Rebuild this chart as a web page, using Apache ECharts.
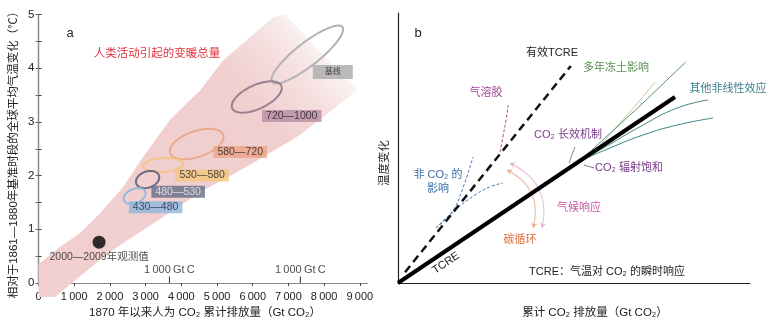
<!DOCTYPE html>
<html><head><meta charset="utf-8">
<script src="https://cdn.jsdelivr.net/npm/echarts@6/dist/echarts.min.js"></script>
<style>html,body{margin:0;padding:0;background:#fff}#c{width:773px;height:322px}</style>
</head><body><div id="c"></div>
<script>
// ---------------- Panel a data ----------------
const xTickLabelsA = [0,1000,2000,3000,4000,5000,6000,7000,8000,9000];
const yTickLabelsA = [0,1,2,3,4,5];
// shaded band "人类活动引起的变暖总量" (outline, GtCO2 / °C)
const bandX = [0, 603, 1163, 1724, 2369, 2930, 3686, 4527, 5172, 5929, 6574, 6900, 8929, 7331, 5929, 4527, 3490, 2004, 967, 462, 0];
const bandY = [0.35, 0.67, 0.93, 1.30, 1.79, 2.35, 3.04, 3.59, 4.15, 4.58, 4.95, 5.0, 3.59, 2.76, 2.20, 1.69, 1.23, 0.58, 0.02, -0.26, -0.26];
// scenario ellipses: centre, major semi-axis offset, minor/major ratio
const scenarioNames = ['基线', '720—1000', '580—720', '530—580', '480—530', '430—480'];
const ellCX = [7527, 6112, 4430, 3490, 3056, 2691];
const ellCY = [4.255, 3.464, 2.588, 2.197, 1.927, 1.620];
const ellDX = [984, 686, 742, 561, 317, 300];
const ellDY = [0.512, 0.212, 0.170, 0.019, 0.077, 0.080];
const ellRatio = [0.26, 0.44, 0.46, 0.35, 0.67, 0.61];
// label box anchor positions
const boxX = [8242, 7093, 5649, 4584, 3911, 3280];
const boxY = [3.93, 3.11, 2.44, 2.00, 1.70, 1.41];
// observed 2000-2009
const obsX = [1696];
const obsY = [0.76];
// 1000 GtC markers (GtCO2)
const gtcMarks = [3667, 7334];

// ---------------- Panel b data (conceptual units 0-100) ----------------
const tcreLine = [[0, 0], [78.7, 68.9]];
const effTcreLine = [[2, 4], [49.1, 80.4]];
const aerosolLine = [[29.0, 48.5], [29.8, 54.1], [30.7, 60.4], [31.3, 65.9]];
const nonCo2A = [[10.8, 20.4], [15.3, 26.3], [18.2, 34.4], [21.3, 46.7]];
const nonCo2B = [[10.8, 20.4], [16.2, 27.0], [21.9, 32.6], [26.1, 35.6], [29.8, 37.0]];
const permafrostLine = [[51.7, 45.2], [56.0, 49.3], [63.1, 59.3], [68.8, 67.8], [73.0, 74.4]];
const otherUpper = [[51.7, 45.2], [58.2, 53.0], [69.6, 66.7], [77.3, 76.3], [81.8, 81.9]];
const otherLower1 = [[51.7, 45.2], [57.4, 49.3], [69.6, 58.5], [79.3, 64.8], [88.1, 67.8]];
const otherLower2 = [[51.7, 45.2], [60.2, 50.0], [69.6, 54.8], [79.3, 58.5], [89.5, 61.1]];
const longTermConnector = [[50.3, 50.4], [49.4, 47.4], [48.6, 44.4]];
const saturationConnector = [[52.8, 43.7], [55.7, 42.6]];
const carbonCycleArrow = [[31.0, 41.9], [38.4, 20.4]];
const climateRespArrow = [[31.8, 44.4], [40.9, 20.4]];

// ---------------- styles ----------------
const ellColors = ['#b2b2b4', '#9d7f93', '#eaa98a', '#f4c585', '#6b6b82', '#94b8de'];
const boxColors = ['#a9aaad', '#b68ca3', '#eda385', '#f5c47e', '#666c86', '#90b6de'];
const boxText = ['#222', '#222', '#222', '#222', '#eef0f6', '#1d2a44'];
const NARROW = "'Liberation Sans Narrow','Liberation Sans','Noto Sans CJK SC',sans-serif";
const MIXED = "'Liberation Sans','Noto Sans CJK SC',sans-serif";

function fmt(v) {
  if (v >= 1000) return Math.floor(v / 1000) + '\u2009' + String(v % 1000).padStart(3, '0');
  return String(v);
}

function ellipseRender(params, api) {
  const c = api.coord([api.value(0), api.value(1)]);
  const e = api.coord([api.value(0) + api.value(2), api.value(1) + api.value(3)]);
  const a = Math.hypot(e[0] - c[0], e[1] - c[1]);
  const ang = Math.atan2(e[1] - c[1], e[0] - c[0]);
  const b = a * api.value(4);
  const pts = [];
  for (let k = 0; k <= 90; k++) {
    const t = k / 90 * 2 * Math.PI;
    const x = a * Math.cos(t), y = b * Math.sin(t);
    pts.push([c[0] + x * Math.cos(ang) - y * Math.sin(ang), c[1] + x * Math.sin(ang) + y * Math.cos(ang)]);
  }
  return { type: 'polyline', shape: { points: pts }, style: { fill: null, stroke: ellColors[params.dataIndex], lineWidth: 2 } };
}

function bandRender(params, api) {
  const pts = bandX.map((x, i) => api.coord([x, bandY[i]]));
  return {
    type: 'polygon', shape: { points: pts },
    style: {
      fill: new echarts.graphic.LinearGradient(0, 1, 1, 0, [
        { offset: 0, color: 'rgba(241,207,207,1)' },
        { offset: 0.68, color: 'rgba(241,207,207,1)' },
        { offset: 0.8, color: 'rgba(241,207,207,0.65)' },
        { offset: 0.93, color: 'rgba(241,207,207,0.05)' }
      ])
    }
  };
}

const series = [];
series.push({ type: 'custom', xAxisIndex: 0, yAxisIndex: 0, renderItem: bandRender, data: [[0, 0]], z: 1, silent: true, clip: false });
series.push({
  type: 'custom', xAxisIndex: 0, yAxisIndex: 0, renderItem: ellipseRender, z: 3, silent: true,
  data: ellCX.map((x, i) => [x, ellCY[i], ellDX[i], ellDY[i], ellRatio[i]])
});
series.push({
  type: 'scatter', xAxisIndex: 0, yAxisIndex: 0, z: 4, symbolSize: 1, itemStyle: { color: 'rgba(0,0,0,0)' },
  data: boxX.map((x, i) => ({
    value: [x, boxY[i]],
    label: {
      show: true, position: 'inside', formatter: scenarioNames[i],
      backgroundColor: boxColors[i], color: boxText[i],
      fontFamily: NARROW, fontSize: i === 0 ? 8 : 10.5, lineHeight: i === 0 ? 10 : 11,
      padding: i === 0 ? [2, 12, 2, 12] : [1, 4, 0, 4]
    }
  }))
});
series.push({
  type: 'scatter', xAxisIndex: 0, yAxisIndex: 0, z: 5, symbolSize: 13, itemStyle: { color: '#000' },
  data: obsX.map((x, i) => [x, obsY[i]]),
  label: { show: true, position: 'bottom', distance: 3, formatter: '2000—2009年观测值', color: '#222', fontSize: 10.5, fontFamily: NARROW }
});
gtcMarks.forEach(g => {
  series.push({
    type: 'line', xAxisIndex: 0, yAxisIndex: 0, z: 5, symbol: 'none', lineStyle: { color: '#333', width: 1 },
    data: [[g, 0], [g, 0.12]]
  });
  series.push({
    type: 'scatter', xAxisIndex: 0, yAxisIndex: 0, z: 5, symbolSize: 1, itemStyle: { color: 'rgba(0,0,0,0)' },
    data: [[g, 0.12]],
    label: { show: true, position: 'top', distance: 1, formatter: '1\u2009000\u2009Gt\u2009C', color: '#222', fontSize: 11, fontFamily: NARROW }
  });
});

// panel b lines
function bLine(data, color, width, type, smooth, z) {
  series.push({ type: 'line', xAxisIndex: 2, yAxisIndex: 2, symbol: 'none', smooth: smooth, z: z || 3, silent: true,
    lineStyle: { color: color, width: width, type: type || 'solid', cap: 'butt' }, data: data });
}
bLine(nonCo2A, '#4a78b5', 1, [3, 2], true);
bLine(nonCo2B, '#4a78b5', 1, [3, 2], true);
bLine(aerosolLine, '#a8487a', 1, [3, 2], true);
bLine(effTcreLine, '#111', 2.5, [8, 5], false, 4);
bLine(permafrostLine, '#cbc38f', 1, 'solid', true);
bLine(otherUpper, '#4f937b', 1, 'solid', true);
bLine(otherLower1, '#3e8584', 1, 'solid', true);
bLine(otherLower2, '#3e8584', 1, 'solid', true);
bLine(longTermConnector, '#6b4a7c', 0.8, 'solid', true);
bLine(saturationConnector, '#6b4a7c', 0.8, 'solid', false);
bLine(tcreLine, '#000', 4, 'solid', false, 5);
series.push({
  type: 'lines', coordinateSystem: 'cartesian2d', xAxisIndex: 2, yAxisIndex: 2, z: 4, silent: true,
  symbol: ['arrow', 'arrow'], symbolSize: 5,
  data: [
    { coords: carbonCycleArrow, lineStyle: { color: '#e2804f', width: 1.2, curveness: 0.4 } },
    { coords: climateRespArrow, lineStyle: { color: '#d98cb8', width: 1.2, curveness: 0.4 } }
  ]
});

function txt(text, x, y, color, size, opts) {
  return Object.assign({
    type: 'text', x: x, y: y, z: 10,
    style: { text: text, fill: color, font: size + "px 'Liberation Sans','Noto Sans CJK SC',sans-serif", align: 'center', verticalAlign: 'middle' }
  }, opts || {});
}

const option = {
  animation: false,
  backgroundColor: '#fff',
  grid: [
    { left: 38.5, right: 406, top: 14.5, bottom: 39 },
    { left: 398, right: 23, top: 13, bottom: 39 }
  ],
  xAxis: [
    { type: 'value', gridIndex: 0, min: 0, max: 9200, interval: 1000, splitLine: { show: false },
      axisLine: { lineStyle: { color: '#444', width: 1.2 } },
      axisTick: { show: true, inside: false, length: 3, lineStyle: { color: '#444' } },
      axisLabel: { margin: 8, fontSize: 11, color: '#222', fontFamily: NARROW, showMaxLabel: false,
        formatter: v => xTickLabelsA.indexOf(v) >= 0 ? fmt(v) : '' } },
    { type: 'value', gridIndex: 0, position: 'top', min: 0, max: 9200, splitLine: { show: false },
      axisLine: { show: true, lineStyle: { color: '#8a8a8a', width: 1.2 } }, axisTick: { show: false }, axisLabel: { show: false } },
    { type: 'value', gridIndex: 1, min: 0, max: 100, splitLine: { show: false },
      axisLine: { lineStyle: { color: '#222', width: 1.2 } }, axisTick: { show: false }, axisLabel: { show: false } }
  ],
  yAxis: [
    { type: 'value', gridIndex: 0, min: 0, max: 5, interval: 0.5, splitLine: { show: false },
      axisLine: { show: true, lineStyle: { color: '#444', width: 1.2 } },
      axisTick: { show: true, inside: true, length: 3, lineStyle: { color: '#444' } },
      axisLabel: { margin: 4, fontSize: 11.5, color: '#222', fontFamily: MIXED,
        formatter: v => yTickLabelsA.indexOf(v) >= 0 ? String(v) : '' } },
    { type: 'value', gridIndex: 0, position: 'right', min: 0, max: 5, interval: 0.5, splitLine: { show: false },
      axisLine: { show: true, lineStyle: { color: '#8a8a8a', width: 1.2 } },
      axisTick: { show: true, inside: true, length: 3, lineStyle: { color: '#666' } }, axisLabel: { show: false } },
    { type: 'value', gridIndex: 1, min: 0, max: 100, splitLine: { show: false },
      axisLine: { show: true, lineStyle: { color: '#222', width: 1.2 } }, axisTick: { show: false }, axisLabel: { show: false } }
  ],
  graphic: [
    txt('a', 70, 33, '#222', 13),
    txt('b', 418, 33, '#222', 13),
    txt('人类活动引起的变暖总量', 157, 54, '#e0323f', 11.5),
    txt('相对于1861—1880年基准时段的全球平均气温变化（℃）', 14, 152, '#222', 11.5, { rotation: Math.PI / 2 }),
    txt('1870 年以来人为 CO₂ 累计排放量（Gt CO₂）', 205, 313, '#222', 11.5),
    txt('温度变化', 385, 163, '#222', 11.5, { rotation: Math.PI / 2 }),
    txt('累计 CO₂ 排放量（Gt CO₂）', 595, 313, '#222', 11.5),
    txt('有效TCRE', 552, 53, '#222', 11),
    txt('多年冻土影响', 616, 68, '#5b8d55', 11),
    txt('其他非线性效应', 728, 89, '#3d7f8f', 11),
    txt('气溶胶', 486, 93, '#a6449a', 11),
    txt('CO₂ 长效机制', 568, 135, '#7a3a8a', 11),
    txt('CO₂ 辐射饱和', 629, 168, '#7a3a8a', 11),
    txt('非 CO₂ 的', 438, 175, '#3a6eaa', 11),
    txt('影响', 438, 189, '#3a6eaa', 11),
    txt('气候响应', 579, 208, '#c4569e', 11),
    txt('碳循环', 520, 240, '#e07040', 11),
    txt('TCRE', 446, 263, '#222', 11, { rotation: 34 * Math.PI / 180 }),
    txt('TCRE：气温对 CO₂ 的瞬时响应', 607, 272, '#222', 11)
  ],
  series: series
};
const chart = echarts.init(document.getElementById('c'));
chart.setOption(option);
</script>
</body></html>
